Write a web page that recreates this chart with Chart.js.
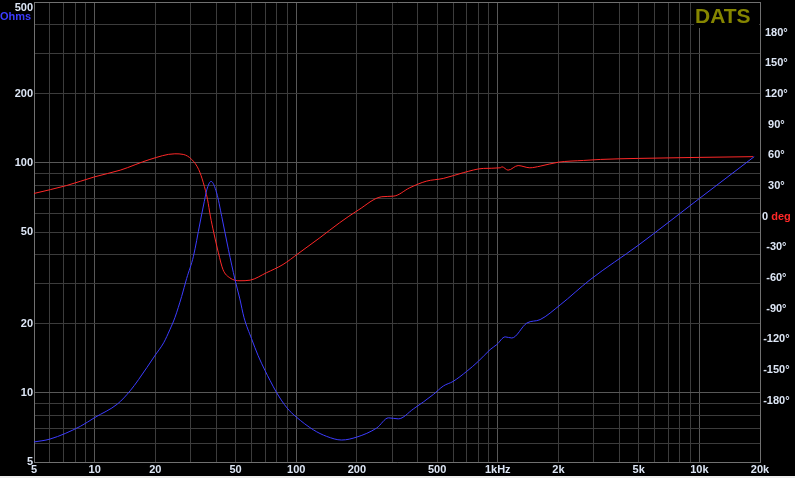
<!DOCTYPE html>
<html>
<head>
<meta charset="utf-8">
<script src="https://cdn.jsdelivr.net/npm/chart.js@4"></script>
<style>
  html, body { margin: 0; padding: 0; background: #eeeeee; }
  #wrap { width: 795px; height: 476px; background: #000; position: relative; }
</style>
</head>
<body>
<div id="wrap"><canvas id="c"></canvas></div>
<script>
// ---- data ----
const impFreq = [5, 6, 8.5, 10, 13, 15, 16.5, 20, 22, 23.6, 25, 27, 28.6, 30.9, 33.3, 35, 36, 37.8, 40.3, 42.7, 46.1, 49.7, 52.4, 55.1, 60, 64.7, 70, 74.2, 80, 90, 100, 121.6, 141.7, 168, 200, 251, 287, 321, 381, 479, 537, 600, 702, 801, 916, 989, 1088, 1174, 1394, 1622, 2040, 2871, 5000, 10000, 18720];
const impOhms = [6.11, 6.29, 7.15, 7.8, 8.95, 10.2, 11.4, 14.6, 16.5, 18.8, 21.2, 26.2, 31.4, 39.2, 54.7, 68, 76.3, 83.0, 73.9, 58.4, 41.9, 31.0, 25.8, 21.2, 17.2, 14.5, 12.5, 11.3, 10.0, 8.59, 7.85, 6.9, 6.46, 6.23, 6.42, 7.03, 7.78, 7.7, 8.5, 9.83, 10.7, 11.2, 12.4, 13.7, 15.4, 16.2, 17.5, 17.3, 20.1, 20.8, 24.1, 31.0, 43.9, 69.9, 106.3];

const phaseFreq = [5, 7.27, 10, 13.4, 18.8, 25, 27.5, 30.3, 32.8, 34.6, 36.3, 37.5, 39, 41.1, 43.3, 46.8, 52.6, 59.1, 71.1, 86, 102, 131, 164, 203, 266, 305, 366, 442, 537, 674, 848, 1029, 1049, 1125, 1262, 1442, 1622, 2000, 2664, 3232, 5000, 10000, 18500];
const phaseDeg = [22.7, 30.5, 39, 45.5, 56, 61.5, 60.9, 56, 46.2, 33.2, 16.8, 0.5, -15.8, -35.3, -51.7, -59.8, -62.7, -62.1, -54.9, -46.8, -36.3, -20.6, -6.0, 6.4, 19.5, 20.1, 28.3, 34.7, 37.4, 43, 47.2, 47.8, 48.8, 45.5, 50, 47.8, 49.4, 53.3, 55, 56, 57, 58, 58.7];

// ---- axis ticks ----
const xGridValues = [5, 6, 7, 8, 9, 10, 20, 30, 40, 50, 60, 70, 80, 90, 100, 200, 300, 400, 500, 600, 700, 800, 900, 1000, 2000, 3000, 4000, 5000, 6000, 7000, 8000, 9000, 10000, 20000];
const xLabelValues = [5, 10, 20, 50, 100, 200, 500, 1000, 2000, 5000, 10000, 20000];
const xLabelTexts = ['5', '10', '20', '50', '100', '200', '500', '1kHz', '2k', '5k', '10k', '20k'];
const yGridValues = [5, 6, 7, 8, 9, 10, 20, 30, 40, 50, 60, 70, 80, 90, 100, 200, 300, 400, 500];
const yLabelValues = [5, 10, 20, 50, 100, 200, 500];
const phaseTicks = [-180, -150, -120, -90, -60, -30, 0, 30, 60, 90, 120, 150, 180];

const TICK_COLOR = '#dde6f5';
const GRID = '#3c3c3c';
const GRID_MAJOR = '#585858';
const BORDER = '#707070';
const FONT = { family: '"Liberation Sans", Arial, sans-serif', size: 11, weight: 'bold' };

const overlay = {
  id: 'overlay',
  afterDraw(chart) {
    const ctx = chart.ctx;
    const yS = chart.scales.y;
    const y1 = chart.scales.y1;
    ctx.save();
    ctx.font = 'bold 11px "Liberation Sans", Arial, sans-serif';
    ctx.textBaseline = 'middle';
    // "500" label (shifted down like the reference)
    ctx.fillStyle = TICK_COLOR;
    ctx.textAlign = 'right';
    ctx.fillText('500', yS.right - 1, yS.getPixelForValue(500) + 6);
    // Ohms unit
    ctx.fillStyle = '#3c3cff';
    ctx.textAlign = 'left';
    ctx.fillText('Ohms', 0, 16.5);
    // 0 deg label
    const full = ctx.measureText('0 deg').width;
    const cx = y1.left + 2 + full / 2;
    const x0 = cx - full / 2;
    const yz = y1.getPixelForValue(0);
    ctx.fillStyle = TICK_COLOR;
    ctx.fillText('0', x0, yz);
    ctx.fillStyle = '#ff2828';
    ctx.fillText('deg', x0 + ctx.measureText('0 ').width, yz);
    // DATS badge
    ctx.fillStyle = '#000';
    ctx.fillRect(694, 3, 65, 25);
    ctx.font = 'bold 21px "Liberation Sans", Arial, sans-serif';
    ctx.fillStyle = '#868600';
    ctx.textAlign = 'left';
    ctx.textBaseline = 'alphabetic';
    ctx.fillText('DATS', 695, 23);
    ctx.restore();
  }
};

new Chart(document.getElementById('c'), {
  type: 'line',
  data: {
    datasets: [
      {
        label: 'Impedance',
        data: impFreq.map((f, i) => ({ x: f, y: impOhms[i] })),
        borderColor: '#3c3cff',
        borderWidth: 1,
        pointRadius: 0,
        cubicInterpolationMode: 'monotone',
        yAxisID: 'y'
      },
      {
        label: 'Phase',
        data: phaseFreq.map((f, i) => ({ x: f, y: phaseDeg[i] })),
        borderColor: '#ff2828',
        borderWidth: 1,
        pointRadius: 0,
        cubicInterpolationMode: 'monotone',
        yAxisID: 'y1'
      }
    ]
  },
  options: {
    responsive: true,
    maintainAspectRatio: false,
    animation: false,
    layout: { padding: { top: 2, left: 0, right: 0, bottom: 0 } },
    plugins: { legend: { display: false }, tooltip: { enabled: false } },
    scales: {
      x: {
        type: 'logarithmic',
        position: 'bottom',
        min: 5,
        max: 20000,
        afterBuildTicks: s => { s.ticks = xGridValues.map(v => ({ value: v })); },
        afterFit: s => { s.height = 14; s.paddingLeft = 0; s.paddingRight = 0; },
        ticks: {
          autoSkip: false, maxRotation: 0, minRotation: 0, padding: 1,
          color: TICK_COLOR, font: FONT,
          callback: v => { const i = xLabelValues.indexOf(v); return i >= 0 ? xLabelTexts[i] : ''; }
        },
        grid: {
          drawTicks: false, lineWidth: 1,
          color: c => {
            const v = c.tick ? c.tick.value : 0;
            if (v === 20000) return BORDER;
            if (v === 10 || v === 100 || v === 1000 || v === 10000) return GRID_MAJOR;
            return GRID;
          }
        },
        border: { color: BORDER }
      },
      y: {
        type: 'logarithmic',
        position: 'left',
        min: 5,
        max: 500,
        afterBuildTicks: s => { s.ticks = yGridValues.map(v => ({ value: v })); },
        afterFit: s => { s.width = 34; s.paddingTop = 0; s.paddingBottom = 0; },
        ticks: {
          autoSkip: false, padding: 1, font: FONT,
          color: c => (c.tick && c.tick.value === 500) ? 'rgba(0,0,0,0)' : TICK_COLOR,
          callback: v => yLabelValues.includes(v) ? String(v) : ''
        },
        grid: {
          drawTicks: false, lineWidth: 1,
          color: c => {
            const v = c.tick ? c.tick.value : 0;
            if (v === 500) return BORDER;
            if (v === 10 || v === 100) return GRID_MAJOR;
            return GRID;
          }
        },
        border: { color: BORDER }
      },
      y1: {
        type: 'linear',
        position: 'right',
        min: -240,
        max: 210,
        afterBuildTicks: s => { s.ticks = phaseTicks.map(v => ({ value: v })); },
        afterFit: s => { s.width = 35; s.paddingTop = 0; s.paddingBottom = 0; },
        ticks: {
          autoSkip: false, padding: 2, crossAlign: 'center', font: FONT,
          color: c => (c.tick && c.tick.value === 0) ? 'rgba(0,0,0,0)' : TICK_COLOR,
          callback: v => v === 0 ? '0 deg' : v + '°'
        },
        grid: { drawOnChartArea: false, drawTicks: false },
        border: { color: BORDER }
      }
    }
  },
  plugins: [overlay]
});
</script>
</body>
</html>
